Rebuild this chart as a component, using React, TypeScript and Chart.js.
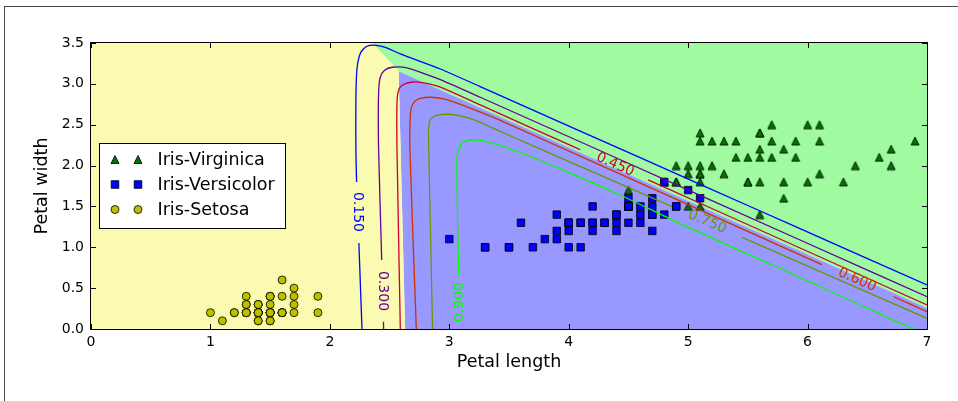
import React, { useEffect, useRef } from "react";
import { Chart, registerables } from "chart.js";

Chart.register(...registerables);

const FONT = '"DejaVu Sans", "Liberation Sans", sans-serif';

// ---------- axes ----------
const xTickValues = [0, 1, 2, 3, 4, 5, 6, 7];
const xTickLabels = ["0", "1", "2", "3", "4", "5", "6", "7"];
const yTickValues = [0, 0.5, 1, 1.5, 2, 2.5, 3, 3.5];
const yTickLabels = ["0.0", "0.5", "1.0", "1.5", "2.0", "2.5", "3.0", "3.5"];
const xAxisTitle = "Petal length";
const yAxisTitle = "Petal width";

// ---------- series (petal length, petal width) ----------
const seriesNames = ["Iris-Virginica", "Iris-Versicolor", "Iris-Setosa"];
type P = [number, number];

const virginica: P[] = [
  [6.0, 2.5], [5.1, 1.9], [5.9, 2.1], [5.6, 1.8], [5.8, 2.2], [6.6, 2.1], [4.5, 1.7], [6.3, 1.8], [5.8, 1.8], [6.1, 2.5],
  [5.1, 2.0], [5.3, 1.9], [5.5, 2.1], [5.0, 2.0], [5.1, 2.4], [5.3, 2.3], [5.5, 1.8], [6.7, 2.2], [6.9, 2.3], [5.0, 1.5],
  [5.7, 2.3], [4.9, 2.0], [6.7, 2.0], [4.9, 1.8], [5.7, 2.1], [6.0, 1.8], [4.8, 1.8], [4.9, 1.8], [5.6, 2.1], [5.8, 1.6],
  [6.1, 1.9], [6.4, 2.0], [5.6, 2.2], [5.1, 1.5], [5.6, 1.4], [6.1, 2.3], [5.6, 2.4], [5.5, 1.8], [4.8, 1.8], [5.4, 2.1],
  [5.6, 2.4], [5.1, 2.3], [5.1, 1.9], [5.9, 2.3], [5.7, 2.5], [5.2, 2.3], [5.0, 1.9], [5.2, 2.0], [5.4, 2.3], [5.1, 1.8],
];
const versicolor: P[] = [
  [4.7, 1.4], [4.5, 1.5], [4.9, 1.5], [4.0, 1.3], [4.6, 1.5], [4.5, 1.3], [4.7, 1.6], [3.3, 1.0], [4.6, 1.3], [3.9, 1.4],
  [3.5, 1.0], [4.2, 1.5], [4.0, 1.0], [4.7, 1.4], [3.6, 1.3], [4.4, 1.4], [4.5, 1.5], [4.1, 1.0], [4.5, 1.5], [3.9, 1.1],
  [4.8, 1.8], [4.0, 1.3], [4.9, 1.5], [4.7, 1.2], [4.3, 1.3], [4.4, 1.4], [4.8, 1.4], [5.0, 1.7], [4.5, 1.5], [3.5, 1.0],
  [3.8, 1.1], [3.7, 1.0], [3.9, 1.2], [5.1, 1.6], [4.5, 1.5], [4.5, 1.6], [4.7, 1.5], [4.4, 1.3], [4.1, 1.3], [4.0, 1.3],
  [4.4, 1.2], [4.6, 1.4], [4.0, 1.2], [3.3, 1.0], [4.2, 1.3], [4.2, 1.2], [4.2, 1.3], [4.3, 1.3], [3.0, 1.1], [4.1, 1.3],
];
const setosa: P[] = [
  [1.4, 0.2], [1.4, 0.2], [1.3, 0.2], [1.5, 0.2], [1.4, 0.2], [1.7, 0.4], [1.4, 0.3], [1.5, 0.2], [1.4, 0.2], [1.5, 0.1],
  [1.5, 0.2], [1.6, 0.2], [1.4, 0.1], [1.1, 0.1], [1.2, 0.2], [1.5, 0.4], [1.3, 0.4], [1.4, 0.3], [1.7, 0.3], [1.5, 0.3],
  [1.7, 0.2], [1.5, 0.4], [1.0, 0.2], [1.7, 0.5], [1.9, 0.2], [1.6, 0.2], [1.6, 0.4], [1.5, 0.2], [1.4, 0.2], [1.6, 0.2],
  [1.6, 0.2], [1.5, 0.4], [1.5, 0.1], [1.4, 0.2], [1.5, 0.2], [1.2, 0.2], [1.3, 0.2], [1.4, 0.1], [1.3, 0.2], [1.5, 0.2],
  [1.3, 0.3], [1.3, 0.3], [1.3, 0.2], [1.6, 0.6], [1.9, 0.4], [1.4, 0.3], [1.6, 0.2], [1.4, 0.2], [1.5, 0.2], [1.4, 0.2],
];

// ---------- predicted-class regions (polygon vertices) ----------
const setosaRegion: P[] = [[0, 0], [0, 3.5], [2.355, 3.5], [2.576, 3.154], [2.63, 0]];
const versicolorRegion: P[] = [[2.63, 0], [2.576, 3.154], [7, 0.257], [7, 0]];
const virginicaRegion: P[] = [[2.355, 3.5], [2.576, 3.154], [7, 0.257], [7, 3.5]];

// ---------- Iris-Versicolor probability contours (null = break for label) ----------
const contourLevelLabels = ["0.150", "0.300", "0.450", "0.600", "0.750", "0.900"];
const contour150: (P | null)[] = [
  [2.269, 0], [2.243, 1.053], null,
  [2.224, 1.799], [2.218, 2.191], [2.218, 2.803], [2.226, 3.17], [2.247, 3.341], [2.28, 3.427], [2.331, 3.47],
  [2.389, 3.472], [2.464, 3.446], [2.59, 3.366], [2.925, 3.182], [3.259, 2.966], [4.096, 2.422], [5.1, 1.771],
  [5.937, 1.228], [7.0, 0.539],
];
const contour300: (P | null)[] = [
  [2.45, 0], [2.449, 0.089], null,
  [2.434, 0.845], [2.408, 2.215], [2.406, 2.681], [2.41, 2.95], [2.423, 3.084], [2.456, 3.164], [2.523, 3.203],
  [2.646, 3.195], [2.813, 3.113], [2.925, 3.051], [3.259, 2.836], [4.264, 2.181], [5.937, 1.089], [7.0, 0.395],
];
const contour450: (P | null)[] = [
  [2.59, 0], [2.562, 2.215], [2.561, 2.681], [2.565, 2.84], [2.584, 2.95], [2.632, 3.002], [2.701, 3.023],
  [2.785, 3.011], [2.925, 2.961], [3.259, 2.742], [4.096, 2.195], null,
  [4.665, 1.824], [5.937, 0.991], [7.0, 0.294],
];
const contour600: (P | null)[] = [
  [2.724, 0], [2.67, 2.215], [2.672, 2.558], [2.682, 2.705], [2.711, 2.785], [2.757, 2.821], [2.841, 2.836],
  [2.981, 2.807], [3.203, 2.687], [3.427, 2.552], [4.264, 2.005], [6.119, 0.788], null,
  [6.718, 0.398], [7.0, 0.212],
];
const contour750: (P | null)[] = [
  [2.86, 0], [2.828, 2.215], [2.827, 2.46], [2.845, 2.57], [2.891, 2.613], [2.967, 2.628], [3.059, 2.619],
  [3.203, 2.561], [3.427, 2.417], [4.264, 1.883], [4.866, 1.497], null,
  [5.452, 1.122], [7.0, 0.131],
];
const contour900: (P | null)[] = [
  [3.079, 0.661], [3.071, 1.212], [3.064, 2.007], [3.071, 2.166], [3.096, 2.252], [3.142, 2.301], [3.209, 2.316],
  [3.315, 2.293], [3.594, 2.16], [3.929, 1.96], [4.431, 1.64], [4.933, 1.29], [5.937, 0.63], [6.883, 0],
];
const contours = [contour150, contour300, contour450, contour600, contour750, contour900];

// label anchor (data coords) and text angle (degrees, screen)
const contourLabelAnchors: P[] = [[2.234, 1.432], [2.442, 0.465], [4.389, 2.01], [6.414, 0.6], [5.159, 1.31], [3.082, 0.33]];
const contourLabelAngles = [90, 90, 24, 24, 23.6, -90];

// ---------- styles ----------
const LEVEL_COLORS = ["#0000ff", "#660099", "#cc0033", "#cc3300", "#669900", "#00ff00"];
const REGION_COLORS = ["#fafab0", "#9898ff", "#a0faa0"];
const MARKER_COLORS = ["#007400", "#0000ff", "#bfbf00"];

const toXY = (pts: (P | null)[]) => {
  const out: { x: number; y: number | null }[] = [];
  let lastX = 0;
  for (const p of pts) {
    if (p === null) out.push({ x: lastX, y: null });
    else {
      out.push({ x: p[0], y: p[1] });
      lastX = p[0];
    }
  }
  return out;
};

function makeTriangle(): HTMLCanvasElement {
  const c = document.createElement("canvas");
  c.width = 10;
  c.height = 10;
  const g = c.getContext("2d")!;
  g.beginPath();
  g.moveTo(5, 1);
  g.lineTo(9, 9);
  g.lineTo(1, 9);
  g.closePath();
  g.fillStyle = MARKER_COLORS[0];
  g.fill();
  g.lineWidth = 0.8;
  g.strokeStyle = "#000";
  g.stroke();
  return c;
}

function drawMarker(ctx: CanvasRenderingContext2D, kind: number, x: number, y: number) {
  ctx.save();
  ctx.lineWidth = 0.8;
  ctx.strokeStyle = "#000";
  ctx.beginPath();
  if (kind === 0) {
    ctx.moveTo(x, y - 4);
    ctx.lineTo(x + 4, y + 4);
    ctx.lineTo(x - 4, y + 4);
    ctx.closePath();
  } else if (kind === 1) {
    ctx.rect(x - 3.8, y - 3.8, 7.6, 7.6);
  } else {
    ctx.arc(x, y, 4, 0, Math.PI * 2);
  }
  ctx.fillStyle = MARKER_COLORS[kind];
  ctx.fill();
  ctx.stroke();
  ctx.restore();
}

const decorPlugin = {
  id: "decor",
  afterDatasetsDraw(chart: any) {
    const ctx: CanvasRenderingContext2D = chart.ctx;
    const xs = chart.scales.x;
    const ys = chart.scales.y;
    const { left, right, top, bottom } = chart.chartArea;

    // contour labels
    ctx.save();
    ctx.font = `14px ${FONT}`;
    ctx.textAlign = "center";
    ctx.textBaseline = "middle";
    contourLabelAnchors.forEach((a, i) => {
      ctx.save();
      ctx.translate(xs.getPixelForValue(a[0]), ys.getPixelForValue(a[1]));
      ctx.rotate((contourLabelAngles[i] * Math.PI) / 180);
      ctx.fillStyle = LEVEL_COLORS[i];
      ctx.fillText(contourLevelLabels[i], 0, 0);
      ctx.restore();
    });
    ctx.restore();

    // frame
    ctx.save();
    ctx.strokeStyle = "#000";
    ctx.lineWidth = 1;
    ctx.strokeRect(left - 0.5, top - 0.5, right - left + 1, bottom - top + 1);
    // inward ticks
    ctx.beginPath();
    xTickValues.forEach((v) => {
      const px = Math.round(xs.getPixelForValue(v)) + 0.5;
      ctx.moveTo(px, bottom);
      ctx.lineTo(px, bottom - 5);
      ctx.moveTo(px, top);
      ctx.lineTo(px, top + 5);
    });
    yTickValues.forEach((v) => {
      const py = Math.round(ys.getPixelForValue(v)) + 0.5;
      ctx.moveTo(left, py);
      ctx.lineTo(left + 5, py);
      ctx.moveTo(right, py);
      ctx.lineTo(right - 5, py);
    });
    ctx.stroke();
    ctx.restore();

    // legend (center left)
    ctx.save();
    const bx = left + 8.5;
    const by = top + 100.5;
    ctx.fillStyle = "#fff";
    ctx.fillRect(bx, by, 186, 85);
    ctx.strokeStyle = "#000";
    ctx.lineWidth = 1;
    ctx.strokeRect(bx, by, 186, 85);
    ctx.font = `17.5px ${FONT}`;
    ctx.textAlign = "left";
    ctx.textBaseline = "middle";
    ctx.fillStyle = "#000";
    seriesNames.forEach((name, i) => {
      const ry = by + 16 + i * 25;
      drawMarker(ctx, i, bx + 15.5, ry);
      drawMarker(ctx, i, bx + 38.5, ry);
      ctx.fillText(name, bx + 58, ry + 1);
    });
    ctx.restore();
  },
};

export default function App() {
  const ref = useRef<HTMLCanvasElement>(null);

  useEffect(() => {
    if (!ref.current) return;
    const tri = makeTriangle();

    const regionDs = [setosaRegion, versicolorRegion, virginicaRegion].map((r, i) => ({
      label: "region" + i,
      data: toXY(r),
      showLine: true,
      fill: "shape",
      backgroundColor: REGION_COLORS[i],
      borderColor: "rgba(0,0,0,0)",
      borderWidth: 0,
      pointRadius: 0,
      tension: 0,
      order: 10,
    }));

    const markerDs = [
      {
        label: seriesNames[0],
        data: toXY(virginica),
        showLine: false,
        pointStyle: tri,
        pointRadius: 5,
        order: 6,
      },
      {
        label: seriesNames[1],
        data: toXY(versicolor),
        showLine: false,
        pointStyle: "rect",
        pointRadius: 5.3,
        pointBackgroundColor: MARKER_COLORS[1],
        pointBorderColor: "#000",
        pointBorderWidth: 0.8,
        order: 5,
      },
      {
        label: seriesNames[2],
        data: toXY(setosa),
        showLine: false,
        pointStyle: "circle",
        pointRadius: 4,
        pointBackgroundColor: MARKER_COLORS[2],
        pointBorderColor: "#000",
        pointBorderWidth: 0.8,
        order: 4,
      },
    ];

    const contourDs = contours.map((c, i) => ({
      label: "p=" + contourLevelLabels[i],
      data: toXY(c),
      showLine: true,
      fill: false,
      borderColor: LEVEL_COLORS[i],
      borderWidth: 1.3,
      pointRadius: 0,
      tension: 0.25,
      spanGaps: false,
      order: 1,
    }));

    const chart = new Chart(ref.current, {
      type: "line",
      data: { datasets: [...regionDs, ...markerDs, ...contourDs] as any },
      options: {
        animation: false,
        responsive: false,
        events: [],
        layout: { padding: { left: 0, right: 31, top: 43, bottom: 0 } },
        plugins: { legend: { display: false }, tooltip: { enabled: false } },
        scales: {
          x: {
            type: "linear",
            min: 0,
            max: 7,
            afterFit: (s: any) => {
              s.height = 72;
            },
            afterBuildTicks: (s: any) => {
              s.ticks = xTickValues.map((v) => ({ value: v }));
            },
            ticks: {
              callback: (v: any) => xTickLabels[xTickValues.indexOf(Number(v))],
              font: { size: 14, family: FONT },
              color: "#000",
              padding: 5,
              maxRotation: 0,
              autoSkip: false,
            },
            grid: { display: false, drawTicks: false },
            border: { display: false },
            title: {
              display: true,
              text: xAxisTitle,
              font: { size: 17.5, family: FONT },
              color: "#000",
              padding: { top: 0, bottom: 28 },
            },
          },
          y: {
            type: "linear",
            min: 0,
            max: 3.5,
            afterFit: (s: any) => {
              s.width = 91;
            },
            afterBuildTicks: (s: any) => {
              s.ticks = yTickValues.map((v) => ({ value: v }));
            },
            ticks: {
              callback: (v: any) => yTickLabels[yTickValues.indexOf(Number(v))],
              font: { size: 14, family: FONT },
              color: "#000",
              padding: 7,
              autoSkip: false,
            },
            grid: { display: false, drawTicks: false },
            border: { display: false },
            title: {
              display: true,
              text: yAxisTitle,
              font: { size: 17.5, family: FONT },
              color: "#000",
              padding: { top: 32, bottom: 0 },
            },
          },
        },
      },
      plugins: [decorPlugin],
    } as any);

    return () => chart.destroy();
  }, []);

  return (
    <div
      style={{
        position: "absolute",
        left: 0,
        top: 0,
        width: 958,
        height: 401,
        background: "#fff",
        overflow: "hidden",
      }}
    >
      <div
        style={{
          position: "absolute",
          left: 4,
          top: 6,
          right: 0,
          bottom: -2,
          borderLeft: "1px solid #4a4a4a",
          borderTop: "1px solid #4a4a4a",
        }}
      />
      <canvas
        ref={ref}
        width={958}
        height={401}
        style={{ position: "absolute", left: 0, top: 0, width: 958, height: 401 }}
      />
    </div>
  );
}
